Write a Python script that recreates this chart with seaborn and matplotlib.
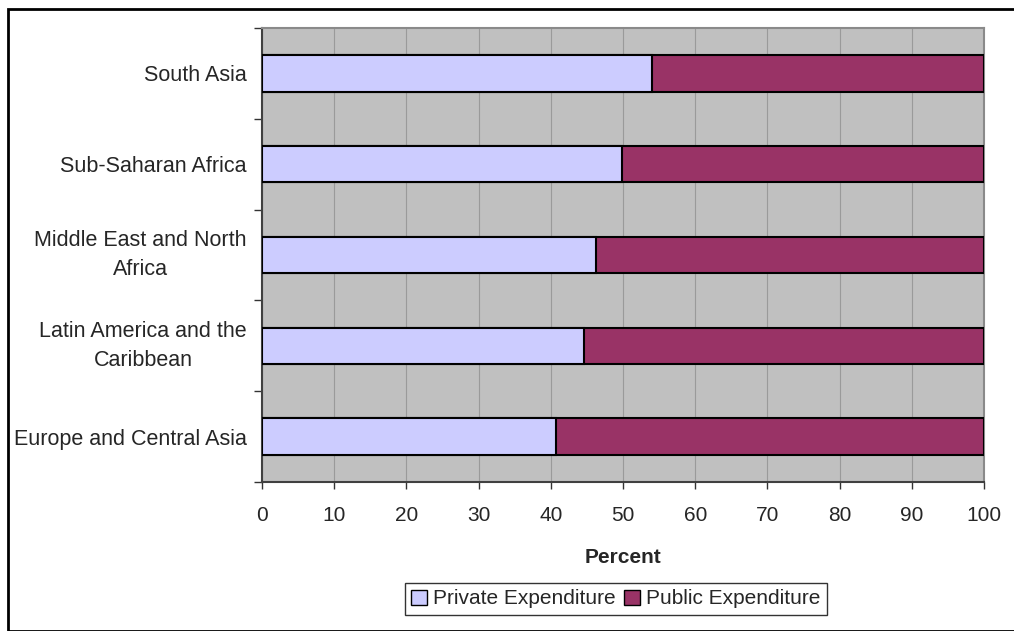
import matplotlib.pyplot as plt
import pandas as pd
import seaborn as sns
from matplotlib.patches import Patch, Rectangle

regions = ["South Asia", "Sub-Saharan Africa", "Middle East and North\nAfrica",
           "Latin America and the\nCaribbean", "Europe and Central Asia"]
private = [54.0, 49.8, 46.3, 44.6, 40.7]
public = [100 - p for p in private]

df = pd.DataFrame({"Region": regions, "Private": private, "Public": public})
df["Total"] = df["Private"] + df["Public"]

sns.set_style("white")
plt.rcParams["font.family"] = ["Liberation Sans", "DejaVu Sans"]

fig = plt.figure(figsize=(10.14, 6.31), dpi=100)
ax = fig.add_axes([262 / 1014, 1 - 482 / 631, 722 / 1014, 454 / 631])
ax.set_facecolor("#C0C0C0")

priv_col = "#CCCCFF"
pub_col = "#993366"

sns.barplot(data=df, x="Total", y="Region", order=regions, color=pub_col,
            width=0.4, edgecolor="black", linewidth=1.5, saturation=1, ax=ax, zorder=3)
sns.barplot(data=df, x="Private", y="Region", order=regions, color=priv_col,
            width=0.4, edgecolor="black", linewidth=1.5, saturation=1, ax=ax, zorder=4)

ax.set_xlim(0, 100)
ax.set_ylim(4.5, -0.5)
ax.set_xticks(range(0, 101, 10))
ax.xaxis.grid(True, color="#9A9A9A", linewidth=0.8, zorder=0)
ax.set_axisbelow(True)
ax.set_yticks([i - 0.5 for i in range(6)], minor=False)
ax.set_yticklabels([])
ax.set_yticks(range(5), minor=True)
ax.set_yticklabels(regions, minor=True, fontsize=15.5, ha="right", multialignment="center",
                   linespacing=1.5)
for lbl in ax.get_yticklabels(minor=True):
    if "\n" in lbl.get_text():
        lbl.set_va("center")
ax.tick_params(axis="y", which="minor", length=0, pad=11)
ax.tick_params(axis="y", which="major", length=6, width=1, color="#333333", direction="out", left=True)
ax.tick_params(axis="x", length=5, width=1, color="#333333", direction="out", bottom=True,
               labelsize=15, pad=12)
for s in ["left", "bottom"]:
    ax.spines[s].set_color("#404040")
    ax.spines[s].set_linewidth(1.5)
for s in ["top", "right"]:
    ax.spines[s].set_color("#8A8A8A")
    ax.spines[s].set_linewidth(1.5)

ax.set_ylabel("")
ax.set_xlabel("Percent", fontsize=15, fontweight="bold", labelpad=17)

handles = [Patch(facecolor=priv_col, edgecolor="black", label="Private Expenditure"),
           Patch(facecolor=pub_col, edgecolor="black", label="Public Expenditure")]
leg = fig.legend(handles=handles, loc="center", bbox_to_anchor=(616 / 1014, 1 - 599 / 631),
                 ncol=2, fontsize=15, frameon=True, fancybox=False, handlelength=0.75,
                 handleheight=0.75, handletextpad=0.3, columnspacing=0.4, borderpad=0.3)
leg.get_frame().set_edgecolor("black")
leg.get_frame().set_linewidth(1)

fig.patches.append(Rectangle((8 / 1014, 0), 1, 1 - 9 / 631, transform=fig.transFigure,
                             fill=False, edgecolor="black", linewidth=2))

fig.savefig("out.png", dpi=100)
